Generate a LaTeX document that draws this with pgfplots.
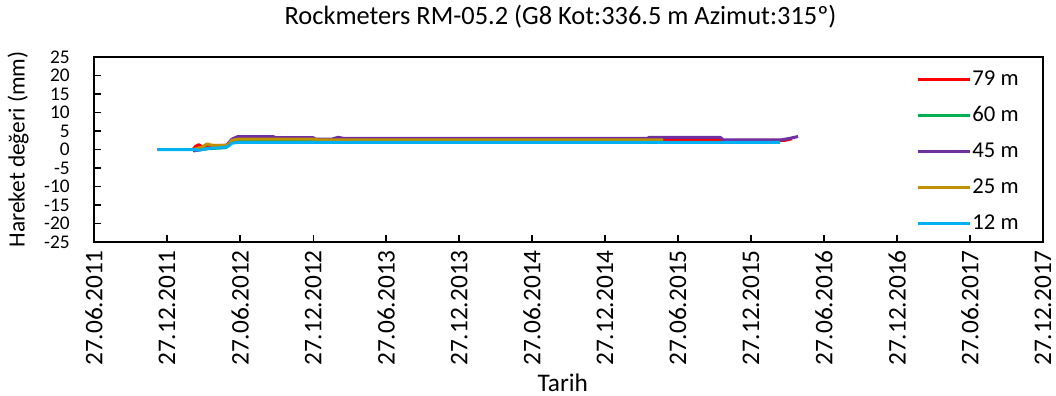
\documentclass[border=0pt]{standalone}
\usepackage{pgfplots}
\pgfplotsset{compat=1.18}
\usepackage{fontspec}
\setmainfont{Carlito}
\definecolor{c79}{HTML}{FF0000}
\definecolor{c60}{HTML}{00B050}
\definecolor{c45}{HTML}{7030A0}
\definecolor{c25}{HTML}{BF9000}
\definecolor{c12}{HTML}{00B0F0}
\begin{document}
\begin{tikzpicture}
\begin{axis}[
  scale only axis,
  width=711.75bp, height=138.75bp,
  xmin=0, xmax=2375, ymin=-25, ymax=25,
  axis line style={black, line width=1.3bp},
  every tick/.style={black, line width=1.3bp},
  major tick length=5bp,
  tick align=inside,
  xtick pos=bottom, ytick pos=left,
  xtick={0,183,366,549,731,914,1096,1279,1461,1644,1827,2010,2192,2375},
  xticklabels={27.06.2011,27.12.2011,27.06.2012,27.12.2012,27.06.2013,27.12.2013,27.06.2014,27.12.2014,27.06.2015,27.12.2015,27.06.2016,27.12.2016,27.06.2017,27.12.2017},
  ytick={-25,-20,...,25},
  /pgf/number format/assume math mode=true,
  xticklabel style={rotate=90, anchor=east, inner sep=0pt, xshift=-6bp, font=\fontsize{19bp}{19bp}\selectfont},
  yticklabel style={anchor=east, inner sep=0pt, xshift=-18bp, font=\fontsize{14.5bp}{14.5bp}\selectfont},
  title={Rockmeters RM-05.2 (G8 Kot:336.5 m Azimut:315º)},
  title style={at={(axis description cs:0.4916,1)}, anchor=center, yshift=24.5bp, inner sep=0pt, font=\fontsize{19.8bp}{19.8bp}\selectfont},
  xlabel={Tarih},
  xlabel style={at={(axis description cs:0.494,0)}, anchor=center, yshift=-105.75bp, inner sep=0pt, font=\fontsize{19bp}{19bp}\selectfont},
  ylabel={Hareket değeri (mm)},
  ylabel style={at={(axis description cs:0,0.5)}, anchor=center, yshift=57bp, inner sep=0pt, font=\fontsize{17.5bp}{17.5bp}\selectfont},
  legend style={at={(axis description cs:0.866,0.945)}, anchor=north west, draw=none, fill=none, inner sep=0pt, row sep=9.6bp,
    /tikz/every even column/.append style={column sep=4bp},
    nodes={inner sep=1bp, text height=12.5bp, text depth=3bp, font=\fontsize{17bp}{17bp}\selectfont}},
  legend image code/.code={\draw[#1, line width=2.25bp] (0bp,0bp) -- (39bp,0bp);},
  every axis plot/.append style={line width=2.25bp, line join=round},
]
\addplot[c79, no marks] coordinates {(248,0.1) (255,0.9) (262,1.3) (272,0.6) (295,1.1) (335,1.1) (345,2.3) (360,2.5) (1730,2.5) (1747,2.9)};
\addlegendentry{79 m}
\addplot[c60, no marks] coordinates {(248,-0.2) (270,0.1) (300,0.3) (330,0.5) (345,2.0) (360,2.2) (1424,2.2)};
\addlegendentry{60 m}
\addplot[c45, no marks] coordinates {(248,-0.4) (265,-0.1) (290,0.4) (330,0.9) (345,2.8) (360,3.5) (448,3.5) (455,3.2) (548,3.2) (555,2.8) (595,2.8) (611,3.3) (625,3.0) (1384,3.0) (1390,3.3) (1567,3.3) (1575,2.6) (1720,2.6) (1740,3.0) (1762,3.5)};
\addlegendentry{45 m}
\addplot[c25, no marks] coordinates {(248,0) (270,0.6) (283,1.5) (300,1.0) (335,1.2) (345,2.5) (360,2.8) (548,2.8) (560,2.6) (1424,2.6)};
\addlegendentry{25 m}
\addplot[c12, no marks] coordinates {(158,0) (248,0) (262,-0.2) (285,0.3) (320,0.5) (335,0.8) (345,1.7) (360,1.9) (1717,1.9)};
\addlegendentry{12 m}
\end{axis}
\pgfresetboundingbox
\path[use as bounding box] (-70.5bp,-115.5bp) rectangle (721.5bp,181.5bp);
\end{tikzpicture}
\end{document}
